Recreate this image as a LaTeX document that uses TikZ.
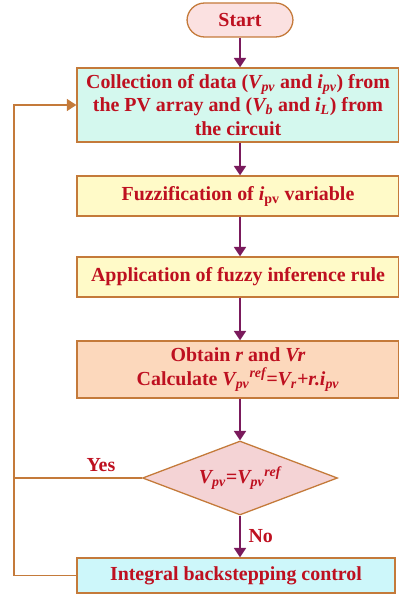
\documentclass[tikz,border=0pt]{standalone}
\usepackage{fontspec}
\setmainfont{Liberation Serif}
\usetikzlibrary{arrows.meta,shapes.geometric}
\definecolor{txtred}{HTML}{BE1020}
\definecolor{edgebrown}{HTML}{C47A3A}
\definecolor{flowpurple}{HTML}{7A1A5C}
\definecolor{startpink}{HTML}{FBE1E1}
\definecolor{datamint}{HTML}{D4F8EE}
\definecolor{fuzzyellow}{HTML}{FFFAC8}
\definecolor{calcpeach}{HTML}{FCD8BC}
\definecolor{decpink}{HTML}{F4D3D5}
\definecolor{ctrlcyan}{HTML}{CDF7FA}
\begin{document}
\begin{tikzpicture}[x=0.03cm, y=-0.03cm,
  every node/.style={font=\fontsize{17}{20}\selectfont\bfseries, text=txtred},
  box/.style={draw=edgebrown, line width=1.1pt, minimum width=322*0.03cm, align=center, inner sep=2pt},
  flow/.style={draw=flowpurple, line width=2pt, -{Triangle[width=10pt,length=8pt]}},
  back/.style={draw=edgebrown, line width=1.5pt}]
  \useasboundingbox (0,0) rectangle (398,601);

  \node[box, fill=startpink, rounded corners=15pt, minimum width=106*0.03cm, minimum height=34*0.03cm] (start) at (240,20) {Start};
  \node[box, fill=datamint, minimum height=74*0.03cm] (collect) at (238,105)
    {Collection of data (\textit{V\textsubscript{pv}} and \textit{i\textsubscript{pv}}) from\\
     the PV array and (\textit{V\textsubscript{b}} and \textit{i\textsubscript{L}}) from\\
     the circuit};
  \node[box, fill=fuzzyellow, minimum height=40*0.03cm] (fuzz) at (238,196) {Fuzzification of \textit{i}\textsubscript{pv} variable};
  \node[box, fill=fuzzyellow, minimum height=40*0.03cm] (rule) at (238,277) {Application of fuzzy inference rule};
  \node[box, fill=calcpeach, minimum height=57*0.03cm] (calc) at (238,369.5)
    {Obtain \textit{r} and \textit{Vr}\\
     Calculate \textit{V\textsubscript{pv}\textsuperscript{ref}=V\textsubscript{r}+r.i\textsubscript{pv}}};
  \node[diamond, draw=edgebrown, line width=1.1pt, fill=decpink, aspect=2.6, inner sep=0pt,
        minimum width=195*0.03cm, minimum height=74*0.03cm] (check) at (240,478)
    {\textit{V\textsubscript{pv}=V\textsubscript{pv}\textsuperscript{ref}}};
  \node[box, fill=ctrlcyan, minimum width=318*0.03cm, minimum height=35*0.03cm] (ibc) at (236,575.5) {Integral backstepping control};

  \coordinate (loop) at (14,575.5);

  \draw[flow] (start.south) -- (start.south |- collect.north);
  \draw[flow] (start.south |- collect.south) -- (start.south |- fuzz.north);
  \draw[flow] (start.south |- fuzz.south) -- (start.south |- rule.north);
  \draw[flow] (start.south |- rule.south) -- (start.south |- calc.north);
  \draw[flow] (start.south |- calc.south) -- (check.north);
  \draw[flow] (check.south) -- (check.south |- ibc.north) node[midway, right=3pt] {No};

  \draw[back, -{Triangle[width=10pt,length=8pt]}] (ibc.west) -- (loop) |- (collect.west);
  \draw[back] (check.west) -- (check.west -| loop) node[pos=0.32, above=1pt] {Yes};
\end{tikzpicture}
\end{document}
